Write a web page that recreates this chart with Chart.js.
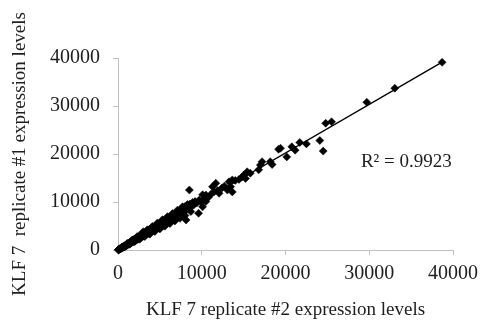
<!DOCTYPE html>
<html>
<head>
<meta charset="utf-8">
<script src="https://cdn.jsdelivr.net/npm/chart.js@4/dist/chart.umd.min.js"></script>
<style>
  html, body { margin:0; padding:0; background:#fff; }
  #wrap { width:485px; height:324px; }
</style>
</head>
<body>
<div id="wrap"><canvas id="chart" width="485" height="324"></canvas></div>
<script>
// expression levels, replicate #2 (x) vs replicate #1 (y)
const rep2Levels = [
  30, 60, 100, 130, 170, 200, 240, 280, 320, 360,
  400, 450, 500, 540, 600, 650, 700, 760, 820, 880,
  940, 1000, 1060, 1120, 1180, 1250, 1320, 1400, 1470, 1550,
  1620, 1700, 1780, 1850, 1930, 2000, 2080, 2150, 2230, 2300,
  2380, 2450, 2530, 2600, 2680, 2750, 2830, 2900, 2980, 3000,
  3060, 3130, 3200, 3280, 3350, 3430, 3500, 3580, 3650, 3730,
  3800, 3880, 3950, 4030, 4100, 4180, 4250, 4330, 4400, 4480,
  4550, 4630, 4700, 4780, 4850, 4930, 5000,
  5080, 5150, 5230, 5300, 5380, 5450, 5530, 5600, 5700, 5800,
  5900, 6000, 6100, 6200, 6300, 6400, 6500, 6600, 6700, 6800,
  6900, 7000,
  7100, 7200, 7300, 7400, 7500, 7600, 7700, 7800, 7900, 8000,
  8100, 8130, 8250, 8400, 8520, 8600, 8750, 8900, 9050, 9200,
  9400, 9620, 9700, 9900,
  10100, 10100, 10300, 10490, 10490, 10800, 11100, 11280, 11480, 11680,
  11900, 12070, 12400, 12700, 13060, 13250, 13450, 13650, 13650, 14000,
  14440, 14800, 15030, 15230, 15420, 15800,
  16800, 17000, 17200, 18180, 18400, 19170, 19400, 20150, 20750, 21150,
  21700, 22500, 24100, 24500, 24800, 25500, 29700, 33050, 38700,
  // edges of the dense band
  500, 800, 1100, 1400, 1700, 2000, 2300, 2600, 2900, 3200,
  3500, 3800, 4100, 4400, 4700, 5000, 5300, 5600, 5900, 6200,
  6500, 6800, 7100, 7400, 7700, 8000, 8300, 8700
];
const rep1Levels = [
  20, 90, 60, 160, 130, 250, 190, 330, 270, 420,
  350, 520, 430, 640, 540, 760, 620, 880, 740, 1010,
  860, 1150, 960, 1300, 1100, 1450, 1230, 1600, 1350, 1780,
  1500, 1950, 1650, 2150, 1820, 2300, 1950, 2450, 2100, 2650,
  2250, 2800, 2400, 2950, 2550, 3100, 2700, 3250, 2850, 3800,
  3350, 3000, 3600, 3150, 3800, 3300, 3950, 3450, 4100, 3600,
  4300, 3750, 4450, 3900, 4600, 4050, 4800, 4200, 4950, 4350,
  5100, 4500, 5300, 4650, 5450, 4800, 5600,
  4950, 5800, 5100, 5950, 5250, 6100, 5400, 6300, 5550, 6500,
  5750, 6700, 5950, 6900, 6150, 7100, 6350, 7300, 6550, 7550,
  6750, 7800,
  6950, 8000, 7250, 8200, 7450, 8500, 7650, 8800, 7950, 9050,
  8350, 6250, 9300, 8700, 12500, 9600, 9100, 9900, 9400, 10100,
  9800, 7650, 10400, 10000,
  11500, 9000, 10600, 11460, 10100, 11000, 11600, 13200, 12150, 13900,
  12400, 11800, 12900, 13300, 12500, 14200, 13200, 14600, 12100, 14500,
  14700, 15200, 15600, 14900, 16300, 16000,
  16700, 17700, 18400, 18400, 17800, 21000, 21200, 19400, 21500, 20800,
  22400, 22100, 22800, 20600, 26400, 26700, 30800, 33700, 39100,
  650, 620, 1350, 1200, 2100, 1750, 2800, 2250, 3450, 2800,
  4200, 3300, 4900, 3850, 5600, 4400, 6300, 4950, 6950, 5500,
  7600, 6050, 8300, 6600, 9000, 7200, 9500, 8000
];

// linear trendline end points and its label
const trendX = [30, 38700];
const trendY = [0, 39160];
const r2Text = 'R² = 0.9923';
const r2At = [29000, 18300];

const axisTicks = [0, 10000, 20000, 30000, 40000];

const AXIS_GRAY = '#c0c0c0';
const TEXT = '#1e1e1e';
const SERIF = '"Liberation Serif", "Times New Roman", serif';

const r2Label = {
  id: 'r2Label',
  afterDraw(chart) {
    const {ctx, scales} = chart;
    ctx.save();
    ctx.font = `19px ${SERIF}`;
    ctx.fillStyle = TEXT;
    ctx.textAlign = 'left';
    ctx.textBaseline = 'middle';
    ctx.fillText(r2Text, scales.x.getPixelForValue(r2At[0]), scales.y.getPixelForValue(r2At[1]));
    ctx.restore();
  }
};

function axis(title, isX) {
  return {
    type: 'linear',
    min: axisTicks[0],
    max: axisTicks[axisTicks.length - 1],
    afterBuildTicks: s => { s.ticks = axisTicks.map(v => ({value: v})); },
    ticks: {
      callback: v => String(v),
      color: TEXT,
      font: { family: SERIF, size: 20 },
      padding: isX ? 7 : 13,
    },
    grid: { drawOnChartArea: false, drawTicks: true, tickLength: 5, color: AXIS_GRAY },
    border: { display: true, color: AXIS_GRAY, width: 1 },
    title: {
      display: true, text: title, color: TEXT,
      font: { family: SERIF, size: 19 },
      padding: isX ? { top: 0, bottom: 3 } : { top: 9, bottom: 0 },
    },
    afterFit: s => { if (isX) s.height = 74; else s.width = 118; },
  };
}

new Chart(document.getElementById('chart'), {
  type: 'scatter',
  data: {
    datasets: [
      {
        label: 'KLF 7',
        data: rep2Levels.map((x, i) => ({ x, y: rep1Levels[i] })),
        pointStyle: 'rectRot',
        pointRadius: 4,
        backgroundColor: '#000',
        borderColor: '#000',
        borderWidth: 0.5,
        clip: false,
      },
      {
        type: 'line',
        label: 'trend',
        data: trendX.map((x, i) => ({ x, y: trendY[i] })),
        borderColor: '#000',
        borderWidth: 1.4,
        pointRadius: 0,
        fill: false,
        clip: false,
      }
    ]
  },
  options: {
    responsive: false,
    animation: false,
    devicePixelRatio: 1,
    layout: { padding: { top: 58, right: 29, left: 0, bottom: 0 } },
    plugins: { legend: { display: false }, tooltip: { enabled: false } },
    scales: {
      x: axis('KLF 7 replicate #2 expression levels', true),
      y: axis('KLF 7  replicate #1 expression levels', false),
    }
  },
  plugins: [r2Label]
});
</script>
</body>
</html>
